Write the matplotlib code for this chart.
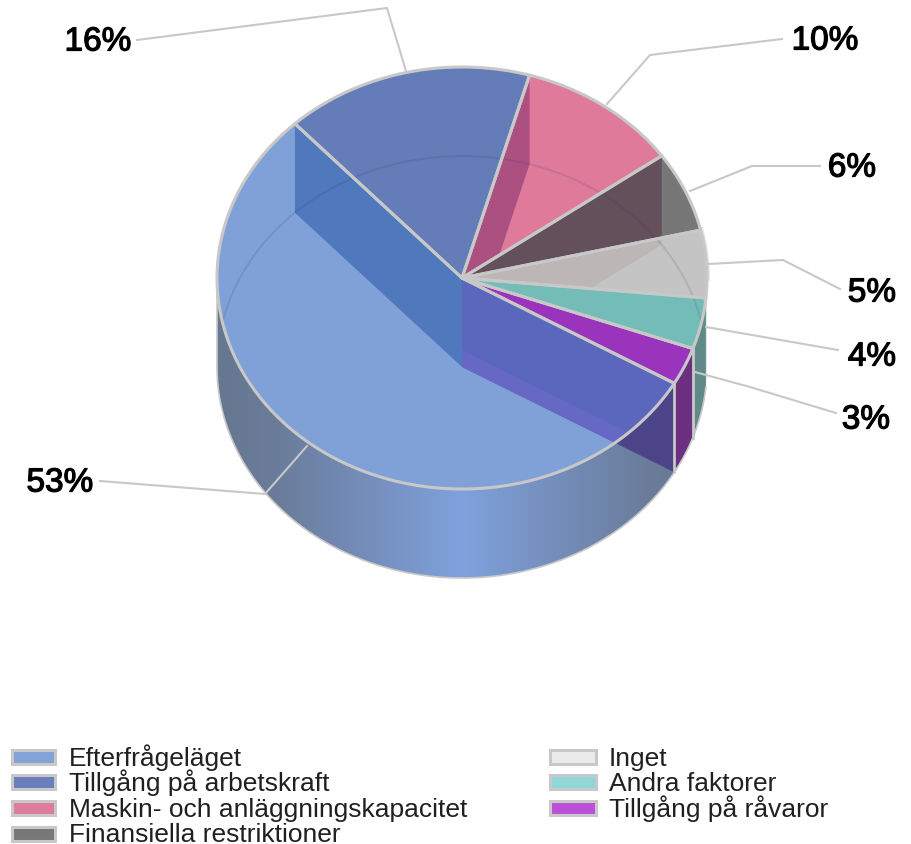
import matplotlib
matplotlib.use("Agg")
import matplotlib.pyplot as plt
import matplotlib.patheffects as pe
import numpy as np
from matplotlib.colors import LinearSegmentedColormap
from matplotlib.patches import Polygon, Rectangle

plt.rcParams["font.family"] = ["Liberation Sans", "DejaVu Sans"]

# data
categories = ["Efterfrågeläget", "Tillgång på arbetskraft", "Maskin- och anläggningskapacitet",
              "Finansiella restriktioner", "Inget", "Andra faktorer", "Tillgång på råvaror"]
values = [53.1, 15.9, 10.4, 6.0, 5.0, 3.8, 2.8]
pct_labels = ["53%", "16%", "10%", "6%", "5%", "4%", "3%"]

# styles
top_colors = ["#80a0d8", "#647db8", "#df7a9b", "#777777", "#c4c4c4", "#7fc8c4", "#9c38c0"]
wall_colors = [None, None, "#ab5080", "#64505a", "#bdb6b6", "#74bcb8", "#9a34bc"]
side_colors = {4: "#e4e4e4", 5: "#5f8a88", 6: "#6b3080"}
legend_colors = ["#84a2d8", "#6a7fb9", "#dd7c9c", "#777777", "#ebebeb", "#90d8d8", "#bb50d8"]
EDGE = "#c8c8c8"

CX, CY, RX, RY, DEPTH = 462, 279, 245, 211, 89
BOUNDARY = 133.0  # where the big slice meets the second one

label_pos = [(60, 484), (98, 43), (825, 42), (852, 169), (872, 294), (872, 358), (866, 421)]
leaders = [
    [(100, 482), (265, 495), (307, 447)],
    [(137, 41), (387, 9), (406, 72)],
    [(782, 40), (650, 56), (607, 105)],
    [(820, 167), (752, 167), (690, 192)],
    [(840, 290), (783, 261), (708, 265)],
    [(838, 351), (706, 328)],
    [(836, 414), (750, 388), (695, 373)],
]


def pt(t, dy=0.0):
    r = np.radians(t)
    return CX + RX * np.cos(r), CY - RY * np.sin(r) + dy


def arc(t0, t1, dy=0.0):
    ts = np.linspace(t0, t1, 160)
    return np.column_stack(pt(ts, dy))


def wall(t, d0=0, d1=DEPTH):
    return [(CX, CY + d0), pt(t, d0), pt(t, d1), (CX, CY + d1)]


fig = plt.figure(figsize=(9.11, 8.45), dpi=100)
ax = fig.add_axes([0, 0, 1, 1])
ax.axis("off")

# slice angles, clockwise; the big slice runs round the left side
sweeps = 360 * np.array(values) / sum(values)
edges = BOUNDARY + sweeps[0] - np.concatenate([[0], np.cumsum(sweeps)])
wedges = [np.vstack([[CX, CY], arc(edges[i], edges[i + 1])]) for i in range(len(values))]

# front side, gradient towards the middle
side_xy = np.vstack([arc(180, edges[0]), arc(edges[0], 180, DEPTH)])
side = Polygon(side_xy, closed=True, fc="none", ec="none")
ax.add_patch(side)
cmap = LinearSegmentedColormap.from_list("side", [(0, "#66788f"), (0.12, "#6a7c9a"), (0.5, "#7fa1dd"),
                                                  (0.88, "#6a7c9a"), (1, "#66788f")])
img = ax.imshow(np.linspace(0, 1, 256)[None, :], extent=(CX - RX, CX + RX, 600, 250),
                cmap=cmap, aspect="auto", zorder=1)
img.set_clip_path(side)
ax.plot(*arc(180, edges[0], DEPTH).T, color=EDGE, lw=1.2, zorder=1.5)
ax.plot([CX - RX, CX - RX], [CY, CY + DEPTH], color=EDGE, lw=1.2, zorder=1.5)

# walls of the small slices at the right
for i, col in side_colors.items():
    t0, t1 = min(edges[i], 0), edges[i + 1]
    ax.add_patch(Polygon(np.vstack([arc(t0, t1), arc(t1, t0, DEPTH)]), fc=col, ec="none", zorder=2))
ax.plot(*arc(edges[4], 0).T, color="#e0e0e0", lw=4, zorder=2)
ax.plot(*arc(edges[-3], edges[-1], DEPTH).T, color=EDGE, lw=1.2, zorder=2.1)

# cut face of the big slice seen outside the top
ax.add_patch(Polygon(wall(edges[0]), fc="#4c4488", ec="none", zorder=2))

for pts in leaders:
    xs, ys = zip(*pts)
    ax.plot(xs, ys, color=EDGE, lw=1.5, zorder=2.5, solid_joinstyle="round")

# top faces
tops = []
for i, w in enumerate(wedges):
    p = Polygon(w, closed=True, fc=top_colors[i], ec="none", zorder=3)
    ax.add_patch(p)
    tops.append(p)

# inner faces seen through the top
inner = [(edges[2], 2, wall_colors[2]), (edges[3], 3, wall_colors[3]), (edges[3], 4, wall_colors[4]),
         (edges[5], 5, wall_colors[5]), (edges[6], 6, wall_colors[6]),
         (edges[1], 0, "#4f78bd"), (edges[0], 0, "#5b66bd")]
for t, i, col in inner:
    p = Polygon(wall(t), fc=col, ec="none", zorder=3.2)
    ax.add_patch(p)
    p.set_clip_path(tops[i])
p = Polygon(wall(edges[0], 72, DEPTH), fc="#6768c4", ec="none", zorder=3.3)
ax.add_patch(p)
p.set_clip_path(tops[0])

# back rim of the bottom face, faint
rim, = ax.plot(*arc(180, 0, DEPTH).T, color="#203060", lw=1.5, alpha=0.12, zorder=3.4)
rim.set_clip_path(Polygon(arc(0, 360), transform=ax.transData))

# outlines
for w in wedges:
    ax.add_patch(Polygon(w, closed=True, fc="none", ec=EDGE, lw=2.2, zorder=4, joinstyle="round"))
for t in edges[-2:]:
    x, y = pt(t)
    ax.plot([x, x], [y, y + DEPTH], color=EDGE, lw=2, zorder=2.6)

# percent labels
for txt, (x, y) in zip(pct_labels, label_pos):
    ax.text(x, y, txt, fontsize=24, color="black", ha="center", va="center", zorder=6,
            path_effects=[pe.withStroke(linewidth=0.9, foreground="black")])

# legend
rows_y = [757.5, 783, 809, 834.5]
baselines = [766, 791.5, 817, 842.5]
columns = [(10, 69, 46), (548, 609, 49)]
for i, name in enumerate(categories):
    col = 0 if i < 4 else 1
    row = i if i < 4 else i - 4
    sx, tx, sw = columns[col]
    ax.add_patch(Rectangle((sx + 1.5, rows_y[row] - 7), sw - 3, 14, fc=legend_colors[i], ec=EDGE, lw=2.2, zorder=5))
    ax.text(tx, baselines[row], name, fontsize=19, color="#202020", ha="left", va="baseline", zorder=6)

ax.set_xlim(0, 911)
ax.set_ylim(845, 0)
fig.savefig("out.png", dpi=100)
